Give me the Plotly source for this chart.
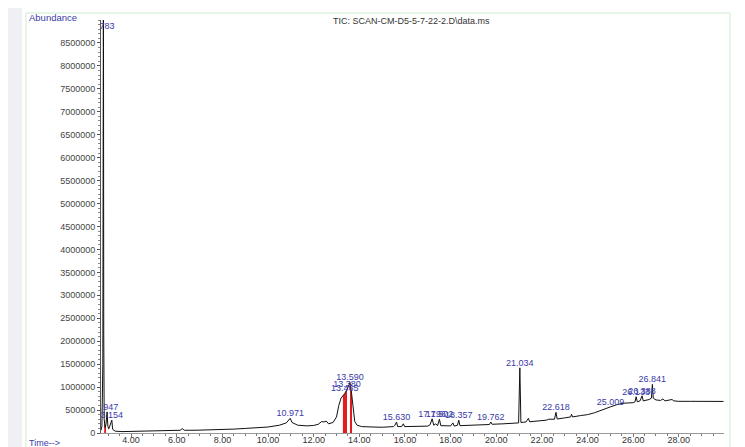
import plotly.graph_objects as go

# ---- chromatogram data (retention time in minutes, abundance) ----
time_min = [
    2.68, 2.72, 2.76, 2.775, 2.783, 2.79, 2.80, 2.82, 2.86, 2.90, 2.947, 2.98, 3.02, 3.08, 3.154, 3.19,
    3.30, 3.60, 4.00, 4.50, 5.00, 5.50, 6.00, 6.15, 6.24, 6.33, 6.80, 7.50, 8.00, 8.50,
    9.00, 9.50, 10.00, 10.50, 10.80, 10.971, 11.05, 11.30, 11.70, 12.00, 12.20, 12.35,
    12.45, 12.55, 12.65, 12.85, 13.00, 13.10, 13.20, 13.28, 13.36, 13.46, 13.52, 13.59,
    13.64, 13.68, 13.74, 13.80, 13.90, 14.10, 14.60, 15.00, 15.50, 15.56, 15.63, 15.68,
    15.85, 15.93, 15.98, 16.50, 17.00, 17.10, 17.19, 17.26, 17.35, 17.43, 17.51, 17.57,
    18.00, 18.10, 18.16, 18.30, 18.357, 18.41, 19.00, 19.50, 19.70, 19.762, 19.82, 20.30,
    20.80, 20.98, 21.034, 21.08, 21.30, 21.41, 21.46, 21.80, 22.20, 22.30, 22.55, 22.618,
    22.67, 23.00, 23.26, 23.30, 23.34, 23.70, 24.00, 24.30, 24.60, 25.009, 25.30, 25.60,
    26.00, 26.08, 26.13, 26.18, 26.30, 26.39, 26.44, 26.60, 26.70, 26.80, 26.841, 26.88,
    27.00, 27.20, 27.30, 27.40, 27.70, 27.78, 28.00, 28.50, 29.00, 29.50, 29.96,
]
abundance = [
    60000, 150000, 1500000, 8600000, 9100000, 8400000, 2200000, 300000, 120000, 200000, 460000, 150000, 90000, 200000, 280000, 80000,
    40000, 30000, 35000, 40000, 45000, 50000, 55000, 60000, 95000, 60000, 60000, 65000, 75000, 85000,
    100000, 115000, 130000, 170000, 220000, 320000, 230000, 170000, 155000, 165000, 190000, 250000,
    240000, 260000, 200000, 230000, 350000, 600000, 760000, 810000, 860000, 950000, 1040000, 1100000,
    950000, 780000, 450000, 250000, 170000, 140000, 130000, 125000, 140000, 170000, 240000, 140000,
    140000, 200000, 140000, 140000, 150000, 180000, 310000, 170000, 200000, 160000, 300000, 160000,
    155000, 220000, 150000, 170000, 280000, 160000, 165000, 180000, 185000, 240000, 190000, 200000,
    215000, 220000, 1420000, 230000, 240000, 320000, 245000, 260000, 280000, 300000, 300000, 450000,
    305000, 330000, 350000, 410000, 350000, 380000, 400000, 440000, 500000, 570000, 620000, 650000,
    660000, 680000, 790000, 680000, 700000, 810000, 700000, 720000, 730000, 760000, 1060000, 760000,
    720000, 710000, 740000, 700000, 730000, 700000, 690000, 690000, 688000, 688000, 688000,
]

# integrated peak windows (red areas)
integration_windows = [(2.82, 2.90), (13.28, 13.46), (13.59, 13.68)]

# peak labels and their retention times
peak_labels = ["2.783", "2.947", "3.154", "10.971", "13.465", "13.380", "13.590", "15.630",
               "17.196", "17.502", "18.357", "19.762", "21.034", "22.618", "25.009",
               "26.133", "26.388", "26.841"]
peak_times = [2.783, 2.947, 3.154, 10.971, 13.36, 13.46, 13.59, 15.63,
              17.19, 17.51, 18.357, 19.762, 21.034, 22.618, 25.009,
              26.13, 26.39, 26.841]

y_ticks = list(range(0, 9000001, 500000))
title_text = "TIC: SCAN-CM-D5-5-7-22-2.D\\data.ms"

# ---- figure ----
Y_MAX = 9000000
FONT = "Liberation Sans, Arial, sans-serif"
LABEL_BLUE = "#3a3aa8"

fig = go.Figure()

for (t0, t1) in integration_windows:
    xs = [t for t in time_min if t0 <= t <= t1]
    ys = [a for t, a in zip(time_min, abundance) if t0 <= t <= t1]
    fig.add_trace(go.Scatter(x=xs, y=ys, mode="lines", line=dict(width=0, color="#e01e1e"),
                             fill="tozeroy", fillcolor="#e01e1e", hoverinfo="skip",
                             showlegend=False))

fig.add_trace(go.Scatter(x=time_min, y=abundance, mode="lines",
                         line=dict(color="#111111", width=1), showlegend=False))

# label positions: apex taken from the data nearest each label time
label_y = []
for t in peak_times:
    idx = min(range(len(time_min)), key=lambda i: abs(time_min[i] - t))
    label_y.append(min(abundance[idx], 8750000))

fig.add_trace(go.Scatter(x=peak_times, y=label_y, mode="text", text=peak_labels,
                         textposition="top center", cliponaxis=True,
                         textfont=dict(family=FONT, size=9, color=LABEL_BLUE),
                         hoverinfo="skip", showlegend=False))

# the page body adds an 8px margin, so the figure is 8px smaller on each axis
fig.update_layout(
    width=737, height=439,
    margin=dict(l=93, r=21, t=12, b=14, autoexpand=False),
    paper_bgcolor="white", plot_bgcolor="white",
    font=dict(family=FONT, size=9, color="#333333"),
    showlegend=False,
    xaxis=dict(range=[2.68, 29.98], tickmode="linear", tick0=0, dtick=2, tickformat=".2f",
               automargin=False, ticklabelstandoff=-5,
               showgrid=False, zeroline=False, showline=True, linecolor="#999999", linewidth=1,
               ticks="outside", ticklen=3, tickcolor="#777777",
               tickfont=dict(family=FONT, size=9, color="#333333"),
               minor=dict(dtick=0.5, ticks="outside", ticklen=2, tickcolor="#777777")),
    yaxis=dict(range=[0, Y_MAX], tickmode="array", tickvals=y_ticks[:-1],
               ticktext=[str(v) for v in y_ticks[:-1]], automargin=False,
               showgrid=False, zeroline=False, showline=True, linecolor="#555555", linewidth=1,
               ticks="outside", ticklen=3, tickcolor="#555555",
               tickfont=dict(family=FONT, size=9, color="#444444"),
               minor=dict(dtick=100000, ticks="outside", ticklen=2, tickcolor="#888888")),
    shapes=[
        dict(type="rect", xref="paper", yref="paper", x0=-0.1621, x1=-0.1268, y0=-0.05, y1=1.06,
             fillcolor="#eef0f3", line=dict(width=0), layer="below"),
        dict(type="rect", xref="paper", yref="paper", x0=-0.1204, x1=1.0096, y0=-0.06, y1=1.017,
             fillcolor="rgba(0,0,0,0)", line=dict(width=1, color="#cdeccf"), layer="below"),
    ],
    annotations=[
        dict(text="Abundance", xref="paper", yref="paper", x=-0.119, y=1.007,
             xanchor="left", yanchor="middle", showarrow=False,
             font=dict(family=FONT, size=9.5, color=LABEL_BLUE)),
        dict(text="Time-->", xref="paper", yref="paper", x=-0.119, y=-0.024,
             xanchor="left", yanchor="middle", showarrow=False,
             font=dict(family=FONT, size=9, color=LABEL_BLUE)),
        dict(text=title_text, xref="paper", yref="paper", x=0.498, y=0.998,
             xanchor="center", yanchor="middle", showarrow=False,
             font=dict(family=FONT, size=9, color="#333333")),
    ],
)

fig.write_html("out.html")
